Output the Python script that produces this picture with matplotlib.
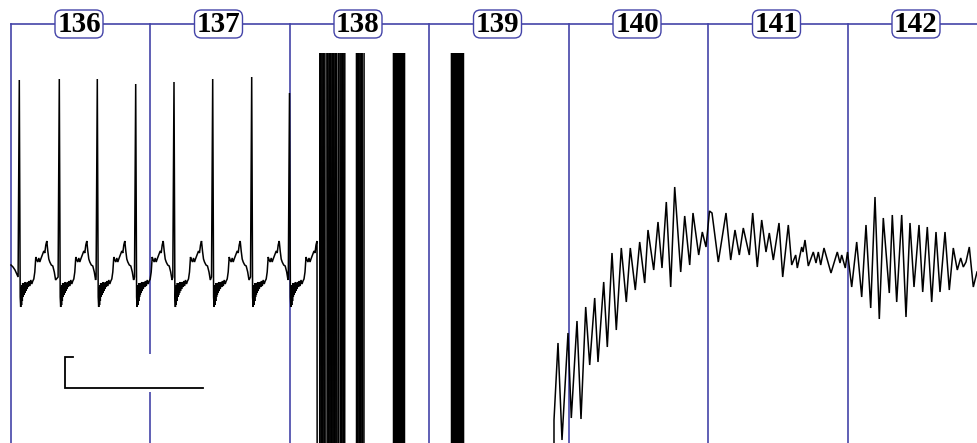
import matplotlib
matplotlib.use("Agg")
import matplotlib.pyplot as plt
from matplotlib.patches import FancyBboxPatch, Rectangle

# ---------------- data ----------------
segment_labels = ["136", "137", "138", "139", "140", "141", "142"]

# lead-in before the first beat (sample position, amplitude)
lead_in_x = [11.0, 13.0, 15.0, 16.8]
lead_in_amp = [2, 0, -3, -7]

# R-peak positions and heights of the regular beats
r_peak_x = [19.3, 59.3, 97.3, 135.7, 174.0, 212.7, 251.7, 289.5]
r_peak_amp = [187, 188, 188, 183, 185, 188, 190, 174]

# one beat (offset from R, amplitude); dx = 0 is the R peak
beat_dx = [-1.2, 0.0, 0.9, 1.4, 1.8, 2.2, 2.6, 3.0, 3.4, 3.8, 4.2, 4.6, 5.0,
           5.5, 6.0, 6.5, 7.0, 7.6, 8.2, 9.0, 9.8, 10.6, 11.5, 12.5, 13.5,
           14.5, 15.5, 16.5, 17.5, 18.5, 19.5, 20.5, 21.5, 23.0, 24.5, 25.5,
           26.5, 27.5, 28.5, 29.5, 30.5, 32.0, 33.5, 35.0, 36.3]
beat_amp = [-10, 0, -30, -40, -20, -38, -18, -34, -16, -30, -17, -28, -16,
            -26, -15, -24, -16, -22, -15, -20, -14, -19, -13, -17, -14,
            -12, -5, 10, 7, 5, 9, 5, 8, 12, 16, 14,
            22, 26, 16, 8, 5, 2, 1, -5, -13]

# saturated artefact: sample position and rail (+1 top, -1 bottom)
artifact_x = [319.0, 320.5, 322.0, 323.5, 325.0, 327.0, 328.5, 330.0, 331.5,
              333.0, 334.5, 336.0, 337.5, 339.5, 341.0, 342.5, 344.0, 345.5,
              356.0, 357.0, 358.5, 360.0, 361.5, 363.0, 365.0,
              393.0, 394.0, 395.0, 396.0, 397.0, 398.0, 399.0, 400.0, 401.0,
              402.0, 403.0, 404.0, 405.0,
              451.0, 452.0, 453.0, 454.0, 455.0, 456.0, 457.0, 458.0, 459.0,
              460.0, 461.0, 462.0, 463.0, 464.0, 553.0]
artifact_rail = [-1, 1, -1, 1, -1, 1, -1, 1, -1,
                 1, -1, 1, -1, 1, -1, 1, -1, 1,
                 1, -1, 1, -1, 1, -1, 1,
                 1, -1, 1, -1, 1, -1, 1, -1, 1,
                 -1, 1, -1, 1,
                 1, -1, 1, -1, 1, -1, 1, -1, 1,
                 -1, 1, -1, 1, -1, -1]

# oscillating rhythm after the artefact (turning points)
osc_x = [554, 558, 562, 568, 571.3, 577, 581, 585.7, 589.7, 594.7, 598, 603.7,
         607.3, 612, 616.3, 621.3, 626.3, 630.3, 635.3, 639.7, 644.7, 648,
         653.7, 658, 662, 666.3, 670.7, 674.7, 680.7, 684.7, 689.7, 693, 698.7,
         702.3, 706, 709.5, 712, 718.3, 726, 730.7, 735, 739.3, 743.3, 749.3,
         752.7, 757.3, 761.7, 766, 769.3, 773.3, 779, 782.7, 788.3, 791.7,
         795.7, 797.3, 801.7, 803, 805, 808.3, 813.3, 816, 818.3, 820.7, 824,
         831, 837.3, 840, 841.7, 845.3, 847.5, 851.7, 856.7, 861.7, 866, 870.7,
         875, 879.3, 883.3, 889.3, 892.3, 896.7, 901.7, 906, 910, 914, 919,
         922.7, 927.3, 931.7, 936, 940, 945, 949.3, 953.3, 957.3, 960.7, 963.3,
         966, 969.3, 973.3, 977]
osc_amp = [-153, -76, -173, -66, -151, -54, -152, -40, -98, -31, -95, -15,
           -80, 14, -63, 19, -35, 19, -23, 25, -16, 37,
           -3, 45, -1, 65, -20, 80, -5, 51, 2, 54, 12,
           35, 20, 56, 54, 5, 54, 7, 37, 12, 39, 12,
           54, 0, 47, 15, 34, 7, 44, -10, 42, 2,
           12, -1, 20, 15, 27, 1, 15, 4, 15, 2, 19,
           -6, 15, 4, 12, -1, 15, -20, 25, -30, 42, -41,
           70, -52, 49, -26, 52, -35, 52, -50, 44, -20, 42,
           -25, 40, -35, 35, -25, 35, -23, 19, -3, 9, 0,
           5, 20, -20, -5]

# ---------------- layout ----------------
W, H = 977, 443
BASE = 267          # pixel row of the isoelectric line
SAT = 3000          # rail level for saturated samples
seg_start, seg_width = 10.5, 139.5
label_row = 24
blue = "#4444a8"

fig = plt.figure(figsize=(W / 100, H / 100), dpi=100)
ax = fig.add_axes([0, 0, 1, 1])
ax.set_xlim(0, W)
ax.set_ylim(BASE - H, BASE)
ax.axis("off")

# build the trace
xs, ys = list(lead_in_x), list(lead_in_amp)
for i, (rx, ra) in enumerate(zip(r_peak_x, r_peak_amp)):
    last = i == len(r_peak_x) - 1
    for dx, a in zip(beat_dx, beat_amp):
        if last and dx > 28:
            break
        xs.append(rx + dx)
        ys.append(ra if dx == 0 else a)
xs += artifact_x
ys += [r * SAT for r in artifact_rail]
xs += osc_x
ys += osc_amp

# grid: top rule and segment separators
top_a = BASE - label_row
ax.plot([seg_start, W], [top_a, top_a], color=blue, lw=1.2, zorder=1)
for i in range(len(segment_labels)):
    xv = seg_start + i * seg_width
    ax.plot([xv, xv], [top_a, BASE - H], color=blue, lw=1.2, zorder=1)

# trace, clipped at the recorder limits
clip = Rectangle((0, BASE - H), W, H - 53, transform=ax.transData)
line, = ax.plot(xs, ys, color="black", lw=1.1, zorder=3, solid_joinstyle="miter")
line.set_clip_path(clip)

# calibration bracket
ax.add_patch(Rectangle((60, BASE - 392), 148, 38, facecolor="white",
                       edgecolor="none", zorder=2))
ax.plot([73, 65, 65, 203], [BASE - 357, BASE - 357, BASE - 388, BASE - 388],
        color="black", lw=1.3, zorder=3, solid_joinstyle="miter")

# segment labels
for i, lab in enumerate(segment_labels):
    cx = seg_start + i * seg_width + 68.5
    box = FancyBboxPatch((cx - 24, top_a - 14), 48, 28,
                         boxstyle="round,pad=0,rounding_size=7",
                         facecolor="white", edgecolor=blue, lw=1.0, zorder=4)
    ax.add_patch(box)
    ax.text(cx, top_a - 1, lab, ha="center", va="center", fontsize=21,
            fontweight="bold", family="Liberation Serif", color="black",
            zorder=5)

fig.savefig("out.png", dpi=100)
